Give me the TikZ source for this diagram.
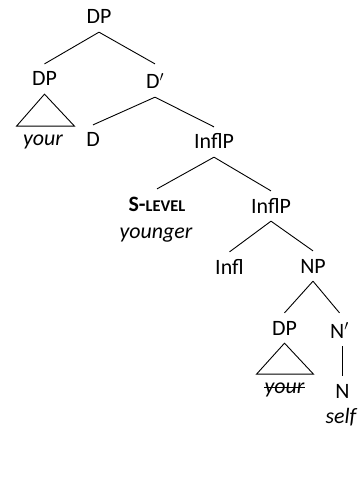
\documentclass[tikz,border=0pt]{standalone}
\usepackage{fontspec}
\setmainfont{Carlito}
\usepackage{tikz}

\begin{document}
\begin{tikzpicture} [x=1bp, y=-1bp,
  lab/.style={anchor=base, inner xsep=1, inner ysep=8, text height=14, text depth=0, font=\fontsize{22}{26}\selectfont},
  word/.style={anchor=base, inner sep=0, font=\fontsize{22}{26}\selectfont\itshape},
  edge/.style={line width=0.9bp}]

\useasboundingbox (0,0) rectangle (361,493);

% the top of the tree
\node [lab] (dptop) at (99,24) {DP};
\node [lab] (dpspec) at (44.5,86) {DP};
\node [lab, text height=17] (dbar) at (155,89) {D$'$};
\node [word] (your) at (43,146) {your};
\node [lab] (d) at (93,147) {D};
\draw [edge] (dptop.south) -- (dpspec.north);
\draw [edge] (dptop.south) -- (dbar.north);
\draw [edge] (dpspec.south) -- ++(-28,32) -- ++(58,0) -- cycle;
\draw [edge] (dbar.south) -- (d.north);

% the InflP part
\node [lab] (inflp) at (214,149) {InflP};
\node [lab] (slevel) at (157,211) {\bfseries S-{\fontsize{16.5}{17}\selectfont LEVEL}};
\node [word] (younger) at (156,238) {younger};
\node [lab] (inflbar) at (271,213) {InflP};
\node [lab] (infl) at (229.5,274) {Infl};
\node [lab] (np) at (313,273) {NP};
\draw [edge] (dbar.south) -- (inflp.north);
\draw [edge] (inflp.south) -- (slevel.north);
\draw [edge] (inflp.south) -- (inflbar.north);
\draw [edge] (inflbar.south) -- (infl.north);
\draw [edge] (inflbar.south) -- (np.north);

% the NP part
\node [lab] (dplow) at (284.5,335) {DP};
\node [lab, text height=17] (nbar) at (339.5,338) {N$'$};
\node [word] (yourlow) at (284.5,393) {your};
\node [lab] (n) at (342.5,398) {N};
\node [word] (self) at (341,423) {self};
\draw [edge] (np.south) -- (dplow.north);
\draw [edge] (np.south) -- (nbar.north);
\draw [edge] (dplow.south) -- ++(-28,31) -- ++(57,0) -- cycle;
\draw [edge] (n.north |- nbar.south) -- (n.north);
% the struck out copy
\draw [edge] ([yshift=6]yourlow.base west) -- ([yshift=6]yourlow.base east);

\end{tikzpicture}
\end{document}
